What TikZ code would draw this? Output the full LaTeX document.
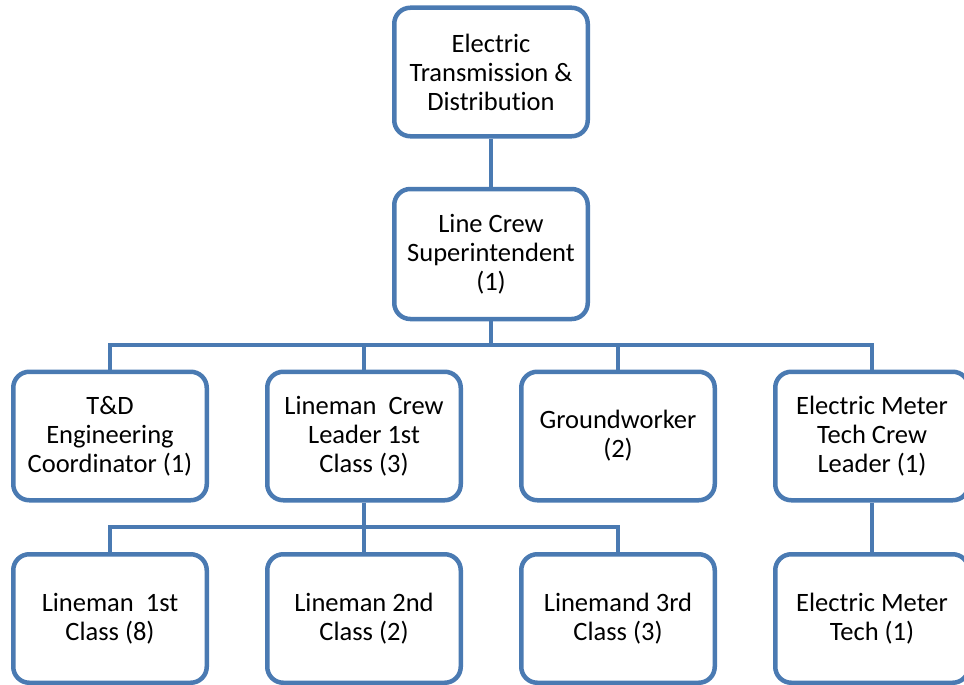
\documentclass[tikz,border=0pt]{standalone}
\usepackage{fontspec}
\setmainfont{Carlito}[Ligatures={NoCommon,NoContextual}]
\definecolor{cblue}{RGB}{74,122,178}
\begin{document}
\begin{tikzpicture}[x=1pt,y=-1pt,
  orgbox/.style={draw=cblue, line width=4.5pt, rounded corners=16pt, fill=white,
    minimum width=193.5pt, minimum height=128.5pt, inner sep=0pt, align=center,
    font=\fontsize{26.5}{29}\selectfont},
  link/.style={draw=cblue, line width=4.5pt}]
\useasboundingbox (0,0) rectangle (964,685);
\node[orgbox] (top) at (491,72) {Electric\\Transmission \&\\Distribution};
\node[orgbox, minimum height=130pt] (sup) at (491,254) {Line Crew\\Superintendent\\(1)};
\node[orgbox] (td) at (110,436) {T\&D\\Engineering\\Coordinator (1)};
\node[orgbox] (lc) at (364,436) {Lineman\ \ Crew\\Leader 1st\\Class (3)};
\node[orgbox] (gw) at (618,436) {Groundworker\\(2)};
\node[orgbox] (mc) at (872,436) {Electric Meter\\Tech Crew\\Leader (1)};
\node[orgbox] (l1) at (110,618.5) {Lineman\ \ 1st\\Class (8)};
\node[orgbox] (l2) at (364,618.5) {Lineman 2nd\\Class (2)};
\node[orgbox] (l3) at (618,618.5) {Linemand 3rd\\Class (3)};
\node[orgbox] (mt) at (872,618.5) {Electric Meter\\Tech (1)};
\coordinate (bus1) at (491,345);
\coordinate (bus2) at (364,527);
\draw[link] (top) -- (sup);
\draw[link] (sup.south) -- (bus1);
\draw[link] (bus1) -| (td.north);
\draw[link] (bus1) -| (lc.north);
\draw[link] (bus1) -| (gw.north);
\draw[link] (bus1) -| (mc.north);
\draw[link] (lc.south) -- (bus2);
\draw[link] (bus2) -| (l1.north);
\draw[link] (bus2) -- (l2.north);
\draw[link] (bus2) -| (l3.north);
\draw[link] (mc) -- (mt);
\end{tikzpicture}
\end{document}
